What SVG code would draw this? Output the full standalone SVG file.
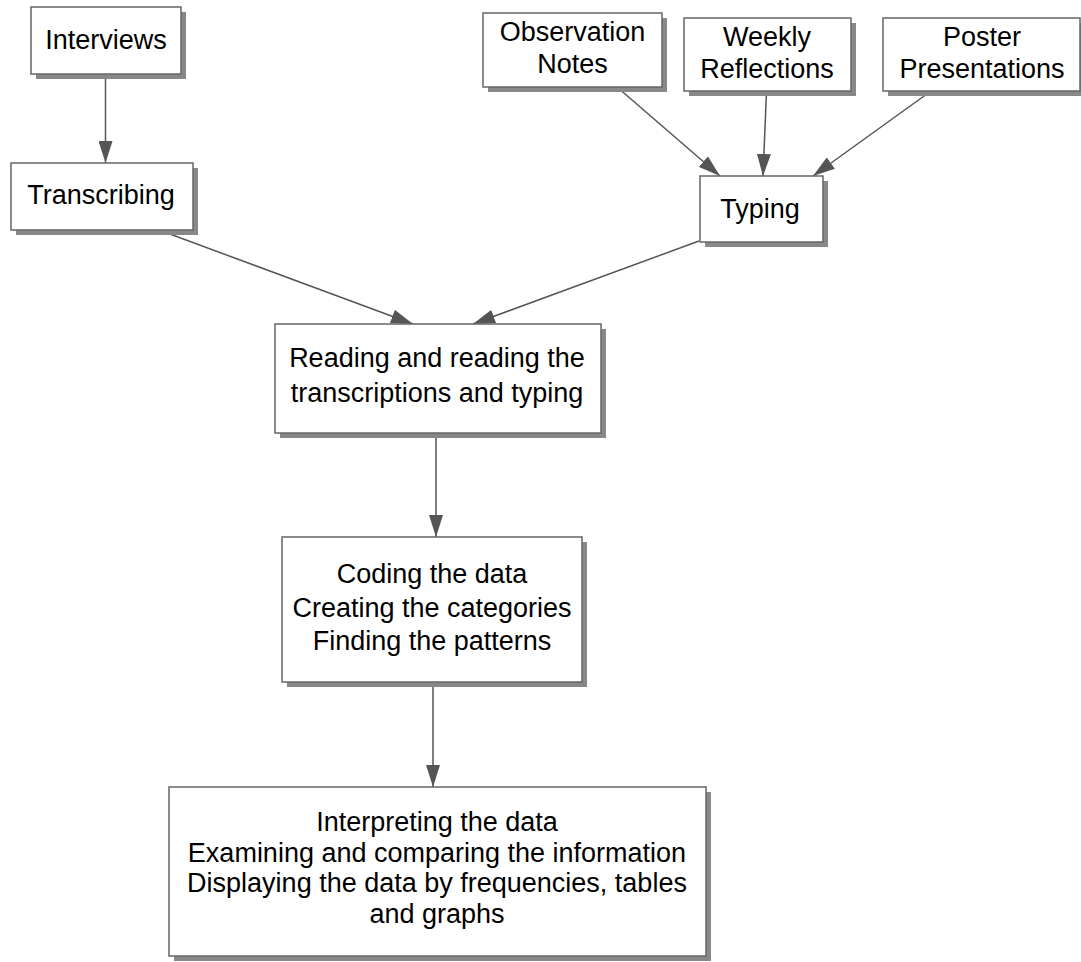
<svg xmlns="http://www.w3.org/2000/svg" width="1081" height="962" viewBox="0 0 1081 962">
<style>
.box{fill:#fff;stroke:#666;stroke-width:1.5}
.sh{fill:#888}
text{font-family:"Liberation Sans",Arial,sans-serif;font-size:27px;fill:#000;text-anchor:middle}
.con line{stroke:#555;stroke-width:1.5;marker-end:url(#ah)}
</style>
<defs>
<marker id="ah" markerUnits="userSpaceOnUse" markerWidth="22" markerHeight="14" refX="22" refY="7" orient="auto">
<path d="M0,0 L22,7 L0,14 z" fill="#555"/>
</marker>
</defs>
<rect width="1081" height="962" fill="#fff"/>
<g class="con" id="connectors">
<line x1="105.5" y1="74" x2="105.5" y2="163"/>
<line x1="159" y1="230" x2="413" y2="324"/>
<line x1="699" y1="241" x2="473" y2="324"/>
<line x1="617" y1="87" x2="720" y2="176"/>
<line x1="766.5" y1="91" x2="763" y2="176"/>
<line x1="931" y1="91" x2="813" y2="176"/>
<line x1="436" y1="433" x2="436" y2="537"/>
<line x1="433" y1="682" x2="433" y2="787"/>
</g>
<g id="interviews">
<rect class="sh" x="36" y="12" width="150" height="67"/>
<rect class="box" x="31" y="7" width="150" height="67"/>
<text x="106" y="49">Interviews</text>
</g>
<g id="transcribing">
<rect class="sh" x="16" y="168" width="182" height="67"/>
<rect class="box" x="11" y="163" width="182" height="67"/>
<text x="101" y="204">Transcribing</text>
</g>
<g id="observation">
<rect class="sh" x="488" y="18" width="179" height="74"/>
<rect class="box" x="483" y="13" width="179" height="74"/>
<text x="572.5" y="41">Observation</text>
<text x="572.5" y="73">Notes</text>
</g>
<g id="weekly">
<rect class="sh" x="689" y="23" width="167" height="73"/>
<rect class="box" x="684" y="18" width="167" height="73"/>
<text x="767" y="46">Weekly</text>
<text x="767" y="78">Reflections</text>
</g>
<g id="poster">
<rect class="sh" x="888" y="23" width="197" height="73"/>
<rect class="box" x="883" y="18" width="197" height="73"/>
<text x="982" y="46">Poster</text>
<text x="982" y="78">Presentations</text>
</g>
<g id="typing">
<rect class="sh" x="705" y="181" width="123" height="66"/>
<rect class="box" x="700" y="176" width="123" height="66"/>
<text x="760" y="218">Typing</text>
</g>
<g id="reading">
<rect class="sh" x="280" y="329" width="326" height="109"/>
<rect class="box" x="275" y="324" width="326" height="109"/>
<text x="437" y="367">Reading and reading the</text>
<text x="437" y="402">transcriptions and typing</text>
</g>
<g id="coding">
<rect class="sh" x="287" y="542" width="300" height="145"/>
<rect class="box" x="282" y="537" width="300" height="145"/>
<text x="432" y="583">Coding the data</text>
<text x="432" y="617">Creating the categories</text>
<text x="432" y="650">Finding the patterns</text>
</g>
<g id="interpreting">
<rect class="sh" x="174" y="792" width="537" height="169"/>
<rect class="box" x="169" y="787" width="537" height="169"/>
<text x="437" y="831">Interpreting the data</text>
<text x="437" y="862">Examining and comparing the information</text>
<text x="437" y="892">Displaying the data by frequencies, tables</text>
<text x="437" y="923">and graphs</text>
</g>
</svg>
